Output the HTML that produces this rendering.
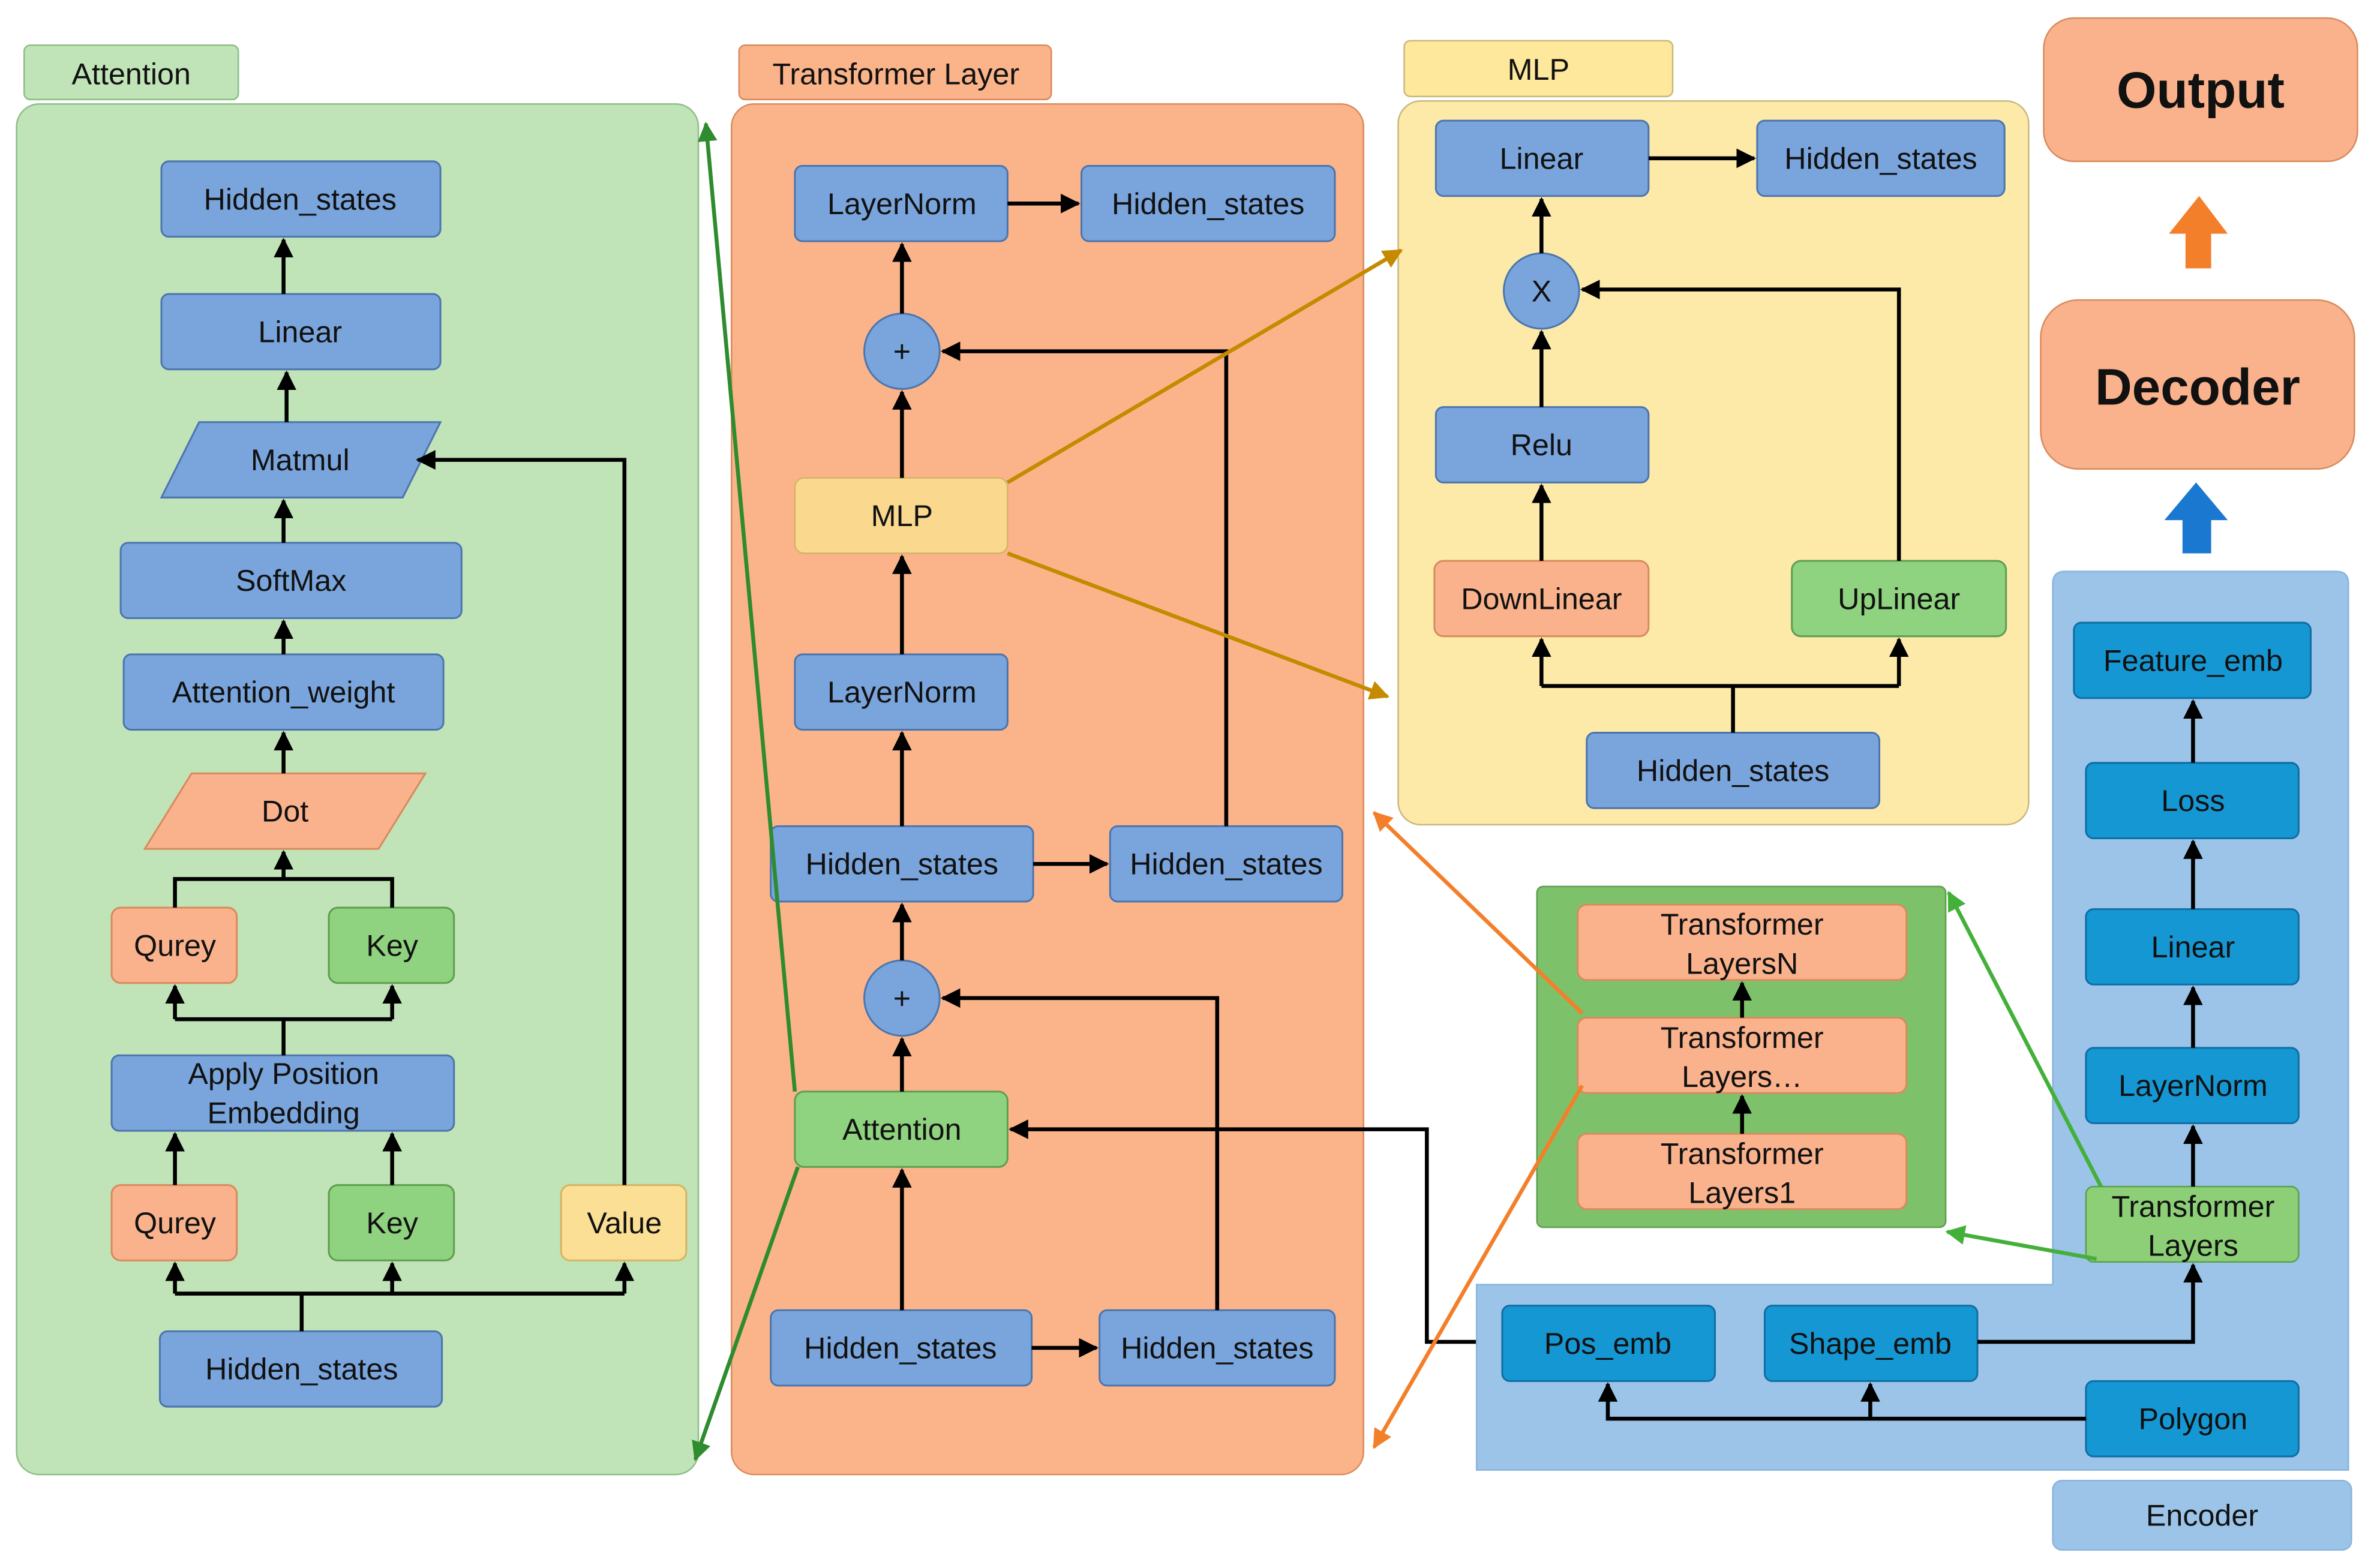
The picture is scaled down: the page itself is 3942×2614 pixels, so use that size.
<!DOCTYPE html>
<html><head><meta charset="utf-8"><style>
html,body{margin:0;padding:0;background:#fff;}
svg{display:block;}
text{font-family:"Liberation Sans",sans-serif;font-size:20px;fill:#111;text-anchor:middle;dominant-baseline:central;}
.b{fill:#7aa5dc;stroke:#4c75ad;stroke-width:1.2;}
.o{fill:#f9b28c;stroke:#d98a5c;stroke-width:1.2;}
.g{fill:#8fd27f;stroke:#5e9e50;stroke-width:1.2;}
.y{fill:#fbdf95;stroke:#d4b466;stroke-width:1.2;}
.d{fill:#1597d3;stroke:#0f6ea3;stroke-width:1.2;}
.l{stroke:#000;stroke-width:2.6;fill:none;}
</style></head><body>
<svg width="3942" height="2614" viewBox="0 0 1568 1040" preserveAspectRatio="none" xmlns="http://www.w3.org/2000/svg">
<defs>
<marker id="a" viewBox="0 0 10 10" refX="9" refY="5" markerWidth="5" markerHeight="5" orient="auto"><path d="M0,0L10,5L0,10z" fill="#000"/></marker>
<marker id="ag" viewBox="0 0 10 10" refX="9" refY="5" markerWidth="5" markerHeight="5" orient="auto"><path d="M0,0L10,5L0,10z" fill="#2e8b2e"/></marker>
<marker id="ay" viewBox="0 0 10 10" refX="9" refY="5" markerWidth="5" markerHeight="5" orient="auto"><path d="M0,0L10,5L0,10z" fill="#c58a00"/></marker>
<marker id="ao" viewBox="0 0 10 10" refX="9" refY="5" markerWidth="5" markerHeight="5" orient="auto"><path d="M0,0L10,5L0,10z" fill="#f47f2a"/></marker>
<marker id="al" viewBox="0 0 10 10" refX="9" refY="5" markerWidth="5" markerHeight="5" orient="auto"><path d="M0,0L10,5L0,10z" fill="#44b03a"/></marker>
</defs>

<!-- Attention panel -->
<rect x="16" y="30" width="142" height="36" rx="4" fill="#c0e3b7" stroke="#8cbf84"/>
<text x="87" y="49">Attention</text>
<rect x="11" y="69" width="452" height="909" rx="15" fill="#c0e3b7" stroke="#8cbf84"/>

<rect class="b" x="107" y="107" width="185" height="50" rx="5"/><text x="199" y="132">Hidden_states</text>
<rect class="b" x="107" y="195" width="185" height="50" rx="5"/><text x="199" y="220">Linear</text>
<polygon class="b" points="132,280 292,280 267,330 107,330"/><text x="199" y="305">Matmul</text>
<rect class="b" x="80" y="360" width="226" height="50" rx="5"/><text x="193" y="385">SoftMax</text>
<rect class="b" x="82" y="434" width="212" height="50" rx="5"/><text x="188" y="459">Attention_weight</text>
<polygon class="o" points="127,513 282,513 251,563 96,563"/><text x="189" y="538">Dot</text>
<rect class="o" x="74" y="602" width="83" height="50" rx="6"/><text x="116" y="627">Qurey</text>
<rect class="g" x="218" y="602" width="83" height="50" rx="6"/><text x="260" y="627">Key</text>
<rect class="b" x="74" y="700" width="227" height="50" rx="5"/><text x="188" y="712">Apply Position</text><text x="188" y="738">Embedding</text>
<rect class="o" x="74" y="786" width="83" height="50" rx="6"/><text x="116" y="811">Qurey</text>
<rect class="g" x="218" y="786" width="83" height="50" rx="6"/><text x="260" y="811">Key</text>
<rect class="y" x="372" y="786" width="83" height="50" rx="6"/><text x="414" y="811">Value</text>
<rect class="b" x="106" y="883" width="187" height="50" rx="5"/><text x="200" y="908">Hidden_states</text>

<line class="l" x1="188" y1="195" x2="188" y2="159" marker-end="url(#a)"/>
<line class="l" x1="190" y1="280" x2="190" y2="247" marker-end="url(#a)"/>
<line class="l" x1="188" y1="360" x2="188" y2="332" marker-end="url(#a)"/>
<line class="l" x1="188" y1="434" x2="188" y2="412" marker-end="url(#a)"/>
<line class="l" x1="188" y1="513" x2="188" y2="486" marker-end="url(#a)"/>
<polyline class="l" points="116,602 116,583 260,583 260,602"/>
<line class="l" x1="188" y1="583" x2="188" y2="565" marker-end="url(#a)"/>
<line class="l" x1="188" y1="700" x2="188" y2="676"/>
<line class="l" x1="116" y1="676" x2="260" y2="676"/>
<line class="l" x1="116" y1="676" x2="116" y2="654" marker-end="url(#a)"/>
<line class="l" x1="260" y1="676" x2="260" y2="654" marker-end="url(#a)"/>
<line class="l" x1="116" y1="786" x2="116" y2="752" marker-end="url(#a)"/>
<line class="l" x1="260" y1="786" x2="260" y2="752" marker-end="url(#a)"/>
<line class="l" x1="200" y1="883" x2="200" y2="858"/>
<line class="l" x1="116" y1="858" x2="414" y2="858"/>
<line class="l" x1="116" y1="858" x2="116" y2="838" marker-end="url(#a)"/>
<line class="l" x1="260" y1="858" x2="260" y2="838" marker-end="url(#a)"/>
<line class="l" x1="414" y1="858" x2="414" y2="838" marker-end="url(#a)"/>
<polyline class="l" points="414,786 414,305 277,305" marker-end="url(#a)"/>

<!-- Transformer layer panel -->
<rect x="490" y="30" width="207" height="36" rx="4" fill="#fbb48a" stroke="#d98a5c"/>
<text x="594" y="49">Transformer Layer</text>
<rect x="485" y="69" width="419" height="909" rx="15" fill="#fbb48a" stroke="#d98a5c"/>

<rect class="b" x="527" y="110" width="141" height="50" rx="5"/><text x="598" y="135">LayerNorm</text>
<rect class="b" x="717" y="110" width="168" height="50" rx="5"/><text x="801" y="135">Hidden_states</text>
<circle class="b" cx="598" cy="233" r="25"/><text x="598" y="233">+</text>
<rect x="527" y="317" width="141" height="50" rx="6" fill="#fad98e" stroke="#d4b466"/><text x="598" y="342">MLP</text>
<rect class="b" x="527" y="434" width="141" height="50" rx="5"/><text x="598" y="459">LayerNorm</text>
<rect class="b" x="511" y="548" width="174" height="50" rx="5"/><text x="598" y="573">Hidden_states</text>
<rect class="b" x="736" y="548" width="154" height="50" rx="5"/><text x="813" y="573">Hidden_states</text>
<circle class="b" cx="598" cy="662" r="25"/><text x="598" y="662">+</text>
<rect class="g" x="527" y="724" width="141" height="50" rx="6"/><text x="598" y="749">Attention</text>
<rect class="b" x="511" y="869" width="173" height="50" rx="5"/><text x="597" y="894">Hidden_states</text>
<rect class="b" x="729" y="869" width="156" height="50" rx="5"/><text x="807" y="894">Hidden_states</text>

<line class="l" x1="668" y1="135" x2="715" y2="135" marker-end="url(#a)"/>
<line class="l" x1="598" y1="208" x2="598" y2="162" marker-end="url(#a)"/>
<line class="l" x1="598" y1="317" x2="598" y2="260" marker-end="url(#a)"/>
<line class="l" x1="598" y1="434" x2="598" y2="369" marker-end="url(#a)"/>
<line class="l" x1="598" y1="548" x2="598" y2="486" marker-end="url(#a)"/>
<line class="l" x1="685" y1="573" x2="734" y2="573" marker-end="url(#a)"/>
<line class="l" x1="598" y1="637" x2="598" y2="600" marker-end="url(#a)"/>
<line class="l" x1="598" y1="724" x2="598" y2="689" marker-end="url(#a)"/>
<line class="l" x1="598" y1="869" x2="598" y2="776" marker-end="url(#a)"/>
<line class="l" x1="684" y1="894" x2="727" y2="894" marker-end="url(#a)"/>
<polyline class="l" points="813,548 813,233 625,233" marker-end="url(#a)"/>
<polyline class="l" points="807,869 807,662 625,662" marker-end="url(#a)"/>
<polyline class="l" points="996,890 946,890 946,749 670,749" marker-end="url(#a)"/>

<!-- MLP panel -->
<rect x="931" y="27" width="178" height="37" rx="4" fill="#fde89c" stroke="#c9b77e"/>
<text x="1020" y="46">MLP</text>
<rect x="927" y="67" width="418" height="480" rx="15" fill="#fdeaa9" stroke="#c9b77e"/>
<rect class="b" x="952" y="80" width="141" height="50" rx="5"/><text x="1022" y="105">Linear</text>
<rect class="b" x="1165" y="80" width="164" height="50" rx="5"/><text x="1247" y="105">Hidden_states</text>
<circle class="b" cx="1022" cy="193" r="25"/><text x="1022" y="193">X</text>
<rect class="b" x="952" y="270" width="141" height="50" rx="5"/><text x="1022" y="295">Relu</text>
<rect class="o" x="951" y="372" width="142" height="50" rx="6"/><text x="1022" y="397">DownLinear</text>
<rect class="g" x="1188" y="372" width="142" height="50" rx="6"/><text x="1259" y="397">UpLinear</text>
<rect class="b" x="1052" y="486" width="194" height="50" rx="5"/><text x="1149" y="511">Hidden_states</text>
<line class="l" x1="1093" y1="105" x2="1163" y2="105" marker-end="url(#a)"/>
<line class="l" x1="1022" y1="168" x2="1022" y2="132" marker-end="url(#a)"/>
<line class="l" x1="1022" y1="270" x2="1022" y2="220" marker-end="url(#a)"/>
<line class="l" x1="1022" y1="372" x2="1022" y2="322" marker-end="url(#a)"/>
<polyline class="l" points="1259,372 1259,192 1049,192" marker-end="url(#a)"/>
<line class="l" x1="1149" y1="486" x2="1149" y2="455"/>
<line class="l" x1="1022" y1="455" x2="1259" y2="455"/>
<line class="l" x1="1022" y1="455" x2="1022" y2="424" marker-end="url(#a)"/>
<line class="l" x1="1259" y1="455" x2="1259" y2="424" marker-end="url(#a)"/>

<!-- Encoder background -->
<path d="M1361,387 Q1361,379 1369,379 L1549,379 Q1557,379 1557,387 L1557,975 L979,975 L979,852 L1361,852 Z" fill="#9cc3e8" stroke="#8ab5df"/>
<rect x="1361" y="982" width="198" height="46" rx="6" fill="#9cc3e8" stroke="#8ab5df"/>
<text x="1460" y="1005">Encoder</text>

<!-- Green stack -->
<rect x="1019" y="588" width="271" height="226" rx="4" fill="#7dc26a" stroke="#5e9e50"/>
<rect class="o" x="1046" y="600" width="218" height="50" rx="6"/><text x="1155" y="613">Transformer</text><text x="1155" y="639">LayersN</text>
<rect class="o" x="1046" y="675" width="218" height="50" rx="6"/><text x="1155" y="688">Transformer</text><text x="1155" y="714">Layers…</text>
<rect class="o" x="1046" y="752" width="218" height="50" rx="6"/><text x="1155" y="765">Transformer</text><text x="1155" y="791">Layers1</text>
<line class="l" x1="1155" y1="752" x2="1155" y2="727" marker-end="url(#a)"/>
<line class="l" x1="1155" y1="675" x2="1155" y2="652" marker-end="url(#a)"/>

<!-- Encoder boxes -->
<rect class="d" x="1375" y="413" width="157" height="50" rx="5"/><text x="1454" y="438">Feature_emb</text>
<rect class="d" x="1383" y="506" width="141" height="50" rx="5"/><text x="1454" y="531">Loss</text>
<rect class="d" x="1383" y="603" width="141" height="50" rx="5"/><text x="1454" y="628">Linear</text>
<rect class="d" x="1383" y="695" width="141" height="50" rx="5"/><text x="1454" y="720">LayerNorm</text>
<rect x="1383" y="787" width="141" height="50" rx="5" fill="#8dcf77" stroke="#5e9e50"/><text x="1454" y="800">Transformer</text><text x="1454" y="826">Layers</text>
<rect class="d" x="996" y="866" width="141" height="50" rx="5"/><text x="1066" y="891">Pos_emb</text>
<rect class="d" x="1170" y="866" width="141" height="50" rx="5"/><text x="1240" y="891">Shape_emb</text>
<rect class="d" x="1383" y="916" width="141" height="50" rx="5"/><text x="1454" y="941">Polygon</text>
<line class="l" x1="1454" y1="506" x2="1454" y2="465" marker-end="url(#a)"/>
<line class="l" x1="1454" y1="603" x2="1454" y2="558" marker-end="url(#a)"/>
<line class="l" x1="1454" y1="695" x2="1454" y2="655" marker-end="url(#a)"/>
<line class="l" x1="1454" y1="787" x2="1454" y2="747" marker-end="url(#a)"/>
<polyline class="l" points="1311,890 1454,890 1454,839" marker-end="url(#a)"/>
<polyline class="l" points="1383,941 1066,941 1066,918" marker-end="url(#a)"/>
<line class="l" x1="1240" y1="941" x2="1240" y2="918" marker-end="url(#a)"/>

<!-- Decoder / Output -->
<rect x="1353" y="199" width="208" height="112" rx="25" fill="#f9b28c" stroke="#d98a5c"/>
<text x="1457" y="257" style="font-size:34px;font-weight:bold">Decoder</text>
<rect x="1355" y="12" width="208" height="95" rx="20" fill="#f9b28c" stroke="#d98a5c"/>
<text x="1459" y="60" style="font-size:34px;font-weight:bold">Output</text>
<polygon points="1447,367 1466,367 1466,345 1477,345 1456,320 1435,345 1447,345" fill="#1a78d0"/>
<polygon points="1449,178 1466,178 1466,155 1477,155 1458,130 1438,155 1449,155" fill="#f47f2a"/>

<!-- colored connector lines -->
<line x1="527" y1="724" x2="468" y2="82" stroke="#2e8b2e" stroke-width="2.6" marker-end="url(#ag)"/>
<line x1="529" y1="774" x2="461" y2="968" stroke="#2e8b2e" stroke-width="2.6" marker-end="url(#ag)"/>
<line x1="668" y1="320" x2="929" y2="166" stroke="#c58a00" stroke-width="2.6" marker-end="url(#ay)"/>
<line x1="668" y1="367" x2="920" y2="462" stroke="#c58a00" stroke-width="2.6" marker-end="url(#ay)"/>
<line x1="1049" y1="672" x2="911" y2="539" stroke="#f47f2a" stroke-width="2.6" marker-end="url(#ao)"/>
<line x1="1049" y1="720" x2="911" y2="960" stroke="#f47f2a" stroke-width="2.6" marker-end="url(#ao)"/>
<line x1="1393" y1="787" x2="1292" y2="592" stroke="#44b03a" stroke-width="2.6" marker-end="url(#al)"/>
<line x1="1390" y1="835" x2="1291" y2="817" stroke="#44b03a" stroke-width="2.6" marker-end="url(#al)"/>
</svg>
</body></html>
